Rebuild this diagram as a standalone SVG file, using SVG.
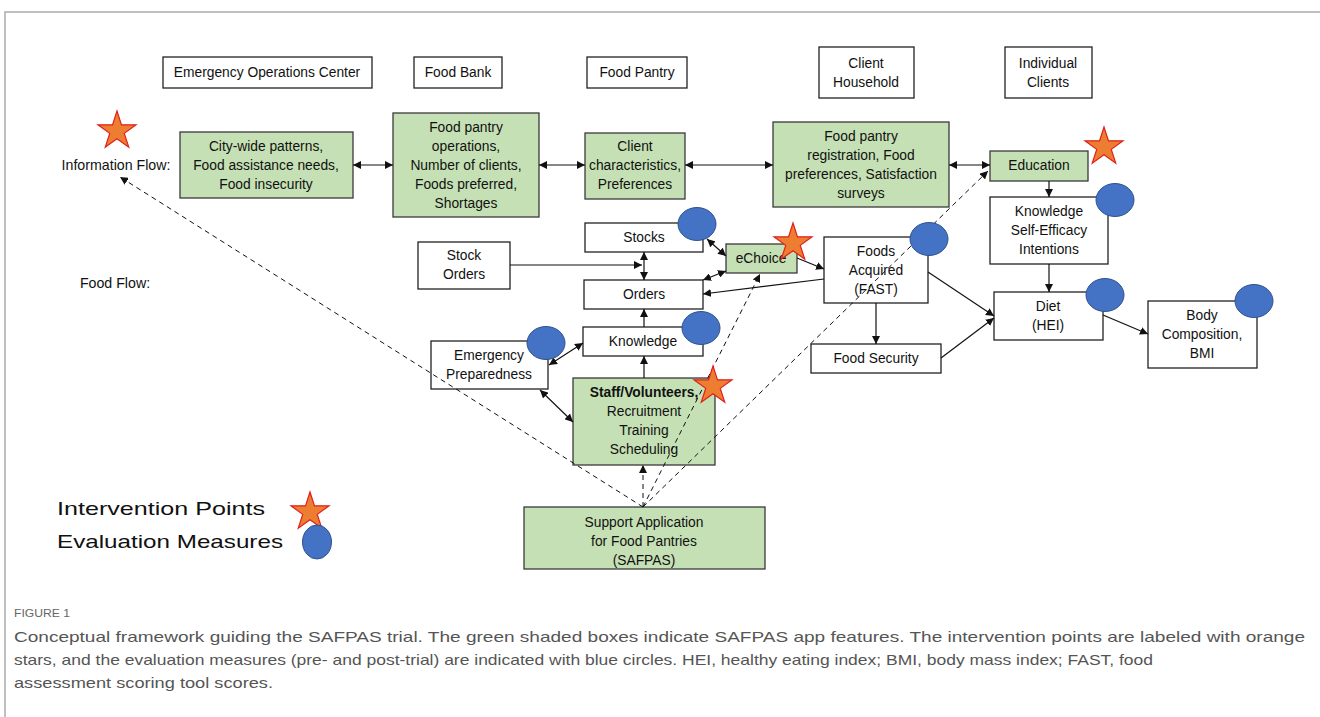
<svg xmlns="http://www.w3.org/2000/svg" width="1320" height="717" viewBox="0 0 1320 717">
<style>
.box{fill:#fff;stroke:#222;stroke-width:1.3}
.g{fill:#C5E0B4;stroke:#3a3a3a;stroke-width:1.3}
.t{font-family:"Liberation Sans",Arial,sans-serif;font-size:13.8px;fill:#111;text-anchor:middle}
.b{font-weight:bold}
.c{fill:#4472C4;stroke:#2F528F;stroke-width:1}
.s{fill:#ED7D31;stroke:#E0201B;stroke-width:1.2}
.a{stroke:#111;stroke-width:1.2;fill:none;marker-end:url(#ah)}
.ab{stroke:#111;stroke-width:1.2;fill:none;marker-end:url(#ah);marker-start:url(#ah)}
.d{stroke:#111;stroke-width:1;fill:none;stroke-dasharray:5,4;marker-end:url(#ah)}
.leg{font-family:"Liberation Sans",Arial,sans-serif;font-size:19px;fill:#111}
.cap{font-family:"Liberation Sans",Arial,sans-serif;font-size:15px;fill:#555}
</style>
<defs>
<marker id="ah" markerUnits="userSpaceOnUse" markerWidth="9" markerHeight="8" refX="8" refY="4" orient="auto-start-reverse"><path d="M0,0 L8,4 L0,8 z" fill="#111"/></marker>
<polygon id="star" points="0,-20 4.49,-6.18 19.02,-6.18 7.27,2.36 11.76,16.18 0,7.64 -11.76,16.18 -7.27,2.36 -19.02,-6.18 -4.49,-6.18"/>
</defs>
<path d="M5,717 V12 H1320" fill="none" stroke="#aaa" stroke-width="1.5"/>

<g id="hdr-eoc"><rect class="box" x="163" y="57" width="209" height="31"/><text class="t" x="267" y="77">Emergency Operations Center</text></g>
<g id="hdr-foodbank"><rect class="box" x="414" y="57" width="88" height="31"/><text class="t" x="458" y="77">Food Bank</text></g>
<g id="hdr-foodpantry"><rect class="box" x="587" y="57" width="100" height="31"/><text class="t" x="637" y="77">Food Pantry</text></g>
<g id="hdr-household"><rect class="box" x="819" y="47" width="95" height="51"/><text class="t" x="866" y="68">Client</text><text class="t" x="866" y="87">Household</text></g>
<g id="hdr-individual"><rect class="box" x="1005" y="47" width="87" height="51"/><text class="t" x="1048" y="68">Individual</text><text class="t" x="1048" y="87">Clients</text></g>

<g id="lbl-info"><text class="t" x="116" y="170" style="font-size:14.2px">Information Flow:</text></g>
<g id="lbl-food"><text class="t" x="115" y="288" style="font-size:14.2px">Food Flow:</text></g>

<g id="n-city"><rect class="g" x="180" y="132" width="173" height="66"/><text class="t" x="266" y="151">City-wide patterns,</text><text class="t" x="266" y="170">Food assistance needs,</text><text class="t" x="266" y="189">Food insecurity</text></g>
<g id="n-fbops"><rect class="g" x="393" y="113" width="146" height="104"/><text class="t" x="466" y="132">Food pantry</text><text class="t" x="466" y="151">operations,</text><text class="t" x="466" y="170">Number of clients,</text><text class="t" x="466" y="189">Foods preferred,</text><text class="t" x="466" y="208">Shortages</text></g>
<g id="n-clientchar"><rect class="g" x="585" y="133" width="100" height="66"/><text class="t" x="635" y="151">Client</text><text class="t" x="635" y="170">characteristics,</text><text class="t" x="635" y="189">Preferences</text></g>
<g id="n-registration"><rect class="g" x="773" y="122" width="176" height="85"/><text class="t" x="861" y="141">Food pantry</text><text class="t" x="861" y="160">registration, Food</text><text class="t" x="861" y="179">preferences, Satisfaction</text><text class="t" x="861" y="198">surveys</text></g>
<g id="n-education"><rect class="g" x="990" y="151" width="98" height="30"/><text class="t" x="1039" y="170">Education</text></g>
<g id="n-kse"><rect class="box" x="990" y="197" width="118" height="67"/><text class="t" x="1049" y="216">Knowledge</text><text class="t" x="1049" y="235">Self-Efficacy</text><text class="t" x="1049" y="254">Intentions</text></g>
<g id="n-diet"><rect class="box" x="994" y="292" width="109" height="48"/><text class="t" x="1048" y="311">Diet</text><text class="t" x="1048" y="330">(HEI)</text></g>
<g id="n-body"><rect class="box" x="1148" y="301" width="109" height="67"/><text class="t" x="1202" y="320">Body</text><text class="t" x="1202" y="339">Composition,</text><text class="t" x="1202" y="358">BMI</text></g>
<g id="n-stocks"><rect class="box" x="585" y="223" width="118" height="29"/><text class="t" x="644" y="242">Stocks</text></g>
<g id="n-stockorders"><rect class="box" x="418" y="242" width="92" height="47"/><text class="t" x="464" y="260">Stock</text><text class="t" x="464" y="279">Orders</text></g>
<g id="n-orders"><rect class="box" x="584" y="280" width="119" height="29"/><text class="t" x="644" y="299">Orders</text></g>
<g id="n-echoice"><rect class="g" x="726" y="244" width="71" height="29"/><text class="t" x="761" y="263">eChoice</text></g>
<g id="n-foodsacq"><rect class="box" x="824" y="237" width="104" height="66"/><text class="t" x="876" y="256">Foods</text><text class="t" x="876" y="275">Acquired</text><text class="t" x="876" y="294">(FAST)</text></g>
<g id="n-foodsec"><rect class="box" x="811" y="344" width="130" height="29"/><text class="t" x="876" y="363">Food Security</text></g>
<g id="n-knowledge"><rect class="box" x="583" y="327" width="120" height="29"/><text class="t" x="643" y="346">Knowledge</text></g>
<g id="n-emergency"><rect class="box" x="431" y="341" width="117" height="48"/><text class="t" x="489" y="360">Emergency</text><text class="t" x="489" y="379">Preparedness</text></g>
<g id="n-staff"><rect class="g" x="573" y="378" width="142" height="87"/><text class="t b" x="644" y="397">Staff/Volunteers,</text><text class="t" x="644" y="416">Recruitment</text><text class="t" x="644" y="435">Training</text><text class="t" x="644" y="454">Scheduling</text></g>
<g id="n-safpas"><rect class="g" x="524" y="507" width="241" height="62"/><text class="t" x="644" y="527">Support Application</text><text class="t" x="644" y="546">for Food Pantries</text><text class="t" x="644" y="565">(SAFPAS)</text></g>

<g id="connectors">
<line class="ab" x1="353" y1="165" x2="393" y2="165"/>
<line class="ab" x1="539" y1="165" x2="585" y2="165"/>
<line class="ab" x1="685" y1="165" x2="773" y2="165"/>
<line class="ab" x1="949" y1="165" x2="990" y2="165"/>
<line class="a" x1="1049" y1="181" x2="1049" y2="197"/>
<line class="a" x1="1049" y1="264" x2="1049" y2="292"/>
<line class="a" x1="1103" y1="315" x2="1148" y2="334"/>
<line class="a" x1="928" y1="272" x2="994" y2="316"/>
<line class="a" x1="941" y1="358" x2="994" y2="318"/>
<line class="a" x1="876" y1="303" x2="876" y2="344"/>
<line class="a" x1="797" y1="258" x2="824" y2="269"/>
<line class="a" x1="824" y1="279" x2="703" y2="294"/>
<line class="ab" x1="707" y1="239" x2="726" y2="256"/>
<line class="ab" x1="703" y1="280" x2="726" y2="271"/>
<line class="ab" x1="644" y1="252" x2="644" y2="280"/>
<line class="a" x1="510" y1="265" x2="642" y2="265"/>
<line class="a" x1="644" y1="327" x2="644" y2="309"/>
<line class="a" x1="644" y1="378" x2="644" y2="356"/>
<line class="ab" x1="549" y1="365" x2="583" y2="343"/>
<line class="ab" x1="540" y1="390" x2="573" y2="422"/>
<line class="d" x1="643" y1="507" x2="120" y2="177"/>
<line class="d" x1="643" y1="507" x2="643" y2="465"/>
<line class="d" x1="643" y1="507" x2="760" y2="274"/>
<line class="d" x1="643" y1="507" x2="988" y2="171"/>
</g>

<g id="marks">
<use href="#star" class="s" transform="translate(117,131)"/>
<use href="#star" class="s" transform="translate(1104,147)"/>
<use href="#star" class="s" transform="translate(793,243)"/>
<use href="#star" class="s" transform="translate(713,386)"/>
<ellipse class="c" cx="697" cy="224" rx="19" ry="16.5"/>
<ellipse class="c" cx="701" cy="328" rx="19" ry="16.5"/>
<ellipse class="c" cx="546" cy="343" rx="19" ry="16.5"/>
<ellipse class="c" cx="929" cy="239" rx="19" ry="16.5"/>
<ellipse class="c" cx="1115" cy="200" rx="19" ry="16.5"/>
<ellipse class="c" cx="1105" cy="295" rx="19" ry="16.5"/>
<ellipse class="c" cx="1254" cy="301" rx="19" ry="16.5"/>
</g>

<g id="legend">
<text class="leg" x="57" y="515" textLength="208" lengthAdjust="spacingAndGlyphs">Intervention Points</text>
<use href="#star" class="s" transform="translate(310,512)"/>
<text class="leg" x="57" y="548" textLength="226" lengthAdjust="spacingAndGlyphs">Evaluation Measures</text>
<ellipse class="c" cx="317" cy="542" rx="14.5" ry="17"/>
</g>

<g id="caption">
<text class="cap" x="14" y="617" style="font-size:11px;fill:#666" textLength="56" lengthAdjust="spacingAndGlyphs">FIGURE 1</text>
<text class="cap" x="14" y="642" textLength="1291" lengthAdjust="spacingAndGlyphs">Conceptual framework guiding the SAFPAS trial. The green shaded boxes indicate SAFPAS app features. The intervention points are labeled with orange</text>
<text class="cap" x="14" y="665" textLength="1139" lengthAdjust="spacingAndGlyphs">stars, and the evaluation measures (pre- and post-trial) are indicated with blue circles. HEI, healthy eating index; BMI, body mass index; FAST, food</text>
<text class="cap" x="14" y="688" textLength="259" lengthAdjust="spacingAndGlyphs">assessment scoring tool scores.</text>
</g>
</svg>
